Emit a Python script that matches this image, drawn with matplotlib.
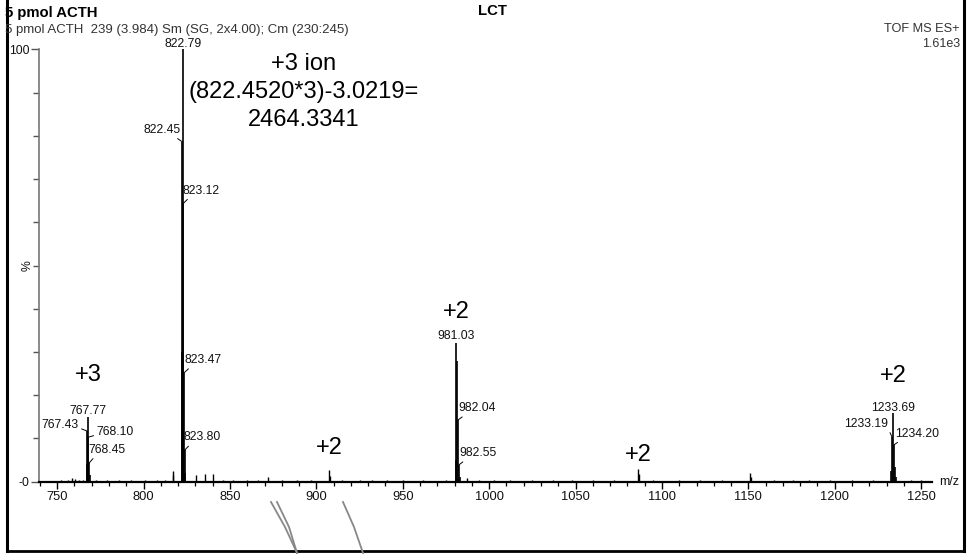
import matplotlib
matplotlib.use("Agg")
import matplotlib.pyplot as plt
from matplotlib.lines import Line2D
import numpy as np

plt.rcParams['font.family'] = ['Liberation Sans', 'DejaVu Sans']

# ---------------- data ----------------
# main isotope clusters (m/z, relative intensity %)
peak_mz = [767.10, 767.43, 767.77, 768.10, 768.45, 768.78,
           822.12, 822.45, 822.79, 823.12, 823.47, 823.80, 824.13,
           980.53, 981.03, 981.53, 982.04, 982.55, 983.05,
           1232.69, 1233.19, 1233.69, 1234.20, 1234.70, 1235.20]
peak_int = [4.0, 11.7, 14.9, 10.3, 4.3, 1.5,
            30.0, 78.6, 100.0, 64.4, 25.2, 7.3, 2.0,
            5.0, 32.1, 28.0, 14.3, 3.9, 1.2,
            2.5, 10.3, 15.8, 8.5, 3.5, 1.0]

# minor peaks and baseline bumps
minor_mz = [752.0, 756.5, 758.4, 760.2, 762.5, 765.0, 772.5, 779.0, 786.0, 793.0,
            801.0, 808.0, 812.5, 816.8, 817.3, 830.3, 835.3, 840.3, 846.0, 852.0,
            860.0, 866.0, 872.2, 880.0, 889.0, 897.0, 907.3, 907.9, 915.0, 925.0,
            932.0, 941.0, 950.0, 962.0, 975.0, 987.0, 994.0, 1003.0, 1012.0, 1025.0,
            1037.0, 1048.0, 1060.0, 1072.0, 1086.1, 1086.7, 1095.0, 1110.0, 1122.0,
            1135.0, 1150.9, 1151.5, 1165.0, 1176.0, 1185.0, 1197.0, 1210.0, 1222.0,
            1244.0, 1250.0]
minor_int = [0.3, 0.4, 0.8, 0.6, 0.5, 0.4, 0.3, 0.3, 0.3, 0.3,
             0.3, 0.5, 0.4, 2.5, 1.5, 1.6, 1.8, 1.7, 0.4, 0.3,
             0.3, 0.3, 1.2, 0.3, 0.3, 0.3, 2.8, 1.4, 0.3, 0.3,
             0.5, 0.3, 0.3, 0.3, 0.4, 0.8, 0.3, 0.5, 0.3, 0.3,
             0.3, 0.3, 0.3, 0.3, 3.0, 1.8, 0.3, 0.3, 0.3,
             0.3, 2.0, 1.0, 0.3, 0.3, 0.5, 0.3, 0.3, 0.3,
             0.4, 0.3]

# labelled peaks
label_mz = [767.43, 767.77, 768.10, 768.45,
            822.45, 822.79, 823.12, 823.47, 823.80,
            981.03, 982.04, 982.55,
            1233.19, 1233.69, 1234.20]
label_int = [11.7, 14.9, 10.3, 4.3,
             78.6, 100.0, 64.4, 25.2, 7.3,
             32.1, 14.3, 3.9,
             10.3, 15.8, 8.5]
label_txt = ["767.43", "767.77", "768.10", "768.45",
             "822.45", "822.79", "823.12", "823.47", "823.80",
             "981.03", "982.04", "982.55",
             "1233.19", "1233.69", "1234.20"]

# charge state annotations (m/z position, text)
charge_mz = [767.8, 907.5, 981.0, 1086.5, 1233.7]
charge_txt = ["+3", "+2", "+2", "+2", "+2"]

xmin, xmax = 739.5, 1256.1
xticks = [750, 800, 850, 900, 950, 1000, 1050, 1100, 1150, 1200, 1250]

# ---------------- layout ----------------
W, H = 967, 554
fig = plt.figure(figsize=(W / 100, H / 100), dpi=100)
ax = fig.add_axes([39 / W, 1 - 481.7 / H, (931.7 - 39) / W, (481.7 - 49.3) / H])
ax.set_xlim(xmin, xmax)
ax.set_ylim(0, 100)

ax.vlines(minor_mz, 0, minor_int, color='black', lw=1.0, clip_on=False)
ax.vlines(peak_mz, 0, peak_int, color='black', lw=1.2, clip_on=False)

for s in ['top', 'right']:
    ax.spines[s].set_visible(False)
ax.spines['bottom'].set_linewidth(1.6)
ax.spines['bottom'].set_color('black')
ax.spines['left'].set_linewidth(1.2)
ax.spines['left'].set_color('#777777')

ax.set_xticks(xticks)
ax.set_xticklabels([str(t) for t in xticks])
ax.set_xticks(np.arange(740, 1260, 10), minor=True)
ax.tick_params(axis='x', which='major', direction='out', length=5, width=1.0,
               color='black', labelsize=9.3, pad=2, labelcolor='#111111')
ax.tick_params(axis='x', which='minor', direction='out', length=3, width=0.9,
               color='black')

ax.set_yticks([0, 100])
ax.set_yticklabels(["-0", "100"])
ax.set_yticks(np.arange(10, 100, 10), minor=True)
ax.tick_params(axis='y', which='major', direction='out', length=6, width=1.0,
               color='#555555', labelsize=8.8, pad=1, labelcolor='#111111')
ax.tick_params(axis='y', which='minor', direction='out', length=4, width=1.0,
               color='#555555')

ax.text(-11 / (931.7 - 39), 0.5, "%", transform=ax.transAxes, rotation=90,
        ha='center', va='center', fontsize=8.8, color='#111111')
ax.text(1.0 + 17 / (931.7 - 39), 0.0, "m/z", transform=ax.transAxes,
        ha='center', va='center', fontsize=9, color='#111111')

# peak labels: (dx, dy) pixel offsets of text from the peak point, alignment, leader anchor
label_layout = [
    (-8.5, 5.7, 'right', (1.0, 0.3), True),   # 767.43
    (0, 6.3, 'center', None, False),          # 767.77
    (8.0, 4.7, 'left', (0.0, 0.3), True),     # 768.10
    (-1, 13.3, 'left', (0.2, 0.0), True),     # 768.45
    (-1.3, 12, 'right', (0.75, 0.1), True),   # 822.45
    (0, 5.5, 'center', None, False),          # 822.79
    (-0.7, 12.6, 'left', (0.2, 0.0), True),   # 823.12
    (0, 12.7, 'left', (0.2, 0.0), True),      # 823.47
    (-1, 12.7, 'left', (0.2, 0.0), True),     # 823.80
    (0, 7.0, 'center', None, False),          # 981.03
    (0.5, 11.7, 'left', (0.2, 0.0), True),    # 982.04
    (0, 11.7, 'left', (0.2, 0.0), True),      # 982.55
    (-4.5, 13.3, 'right', (1.0, 0.2), True),  # 1233.19
    (0, 5.0, 'center', None, False),          # 1233.69
    (1, 11.3, 'left', (0.15, 0.0), True),     # 1234.20
]
for mz, it, txt, (dx, dy, ha, rp, lead) in zip(label_mz, label_int, label_txt, label_layout):
    kw = {}
    if lead:
        kw['arrowprops'] = dict(arrowstyle='-', lw=0.7, color='black',
                                shrinkA=0, shrinkB=0, relpos=rp)
    ax.annotate(txt, xy=(mz, it), xytext=(dx, dy), textcoords='offset pixels',
                ha=ha, va='center', fontsize=8.7, color='#111111',
                annotation_clip=False, **kw)

# charge state labels (pixel y positions from reference)
charge_y = [375, 448, 312, 455, 376]
for mz, txt, yp in zip(charge_mz, charge_txt, charge_y):
    xf = ax.transData.transform((mz, 0))[0] / W
    fig.text(xf, 1 - yp / H, txt, ha='center', va='center', fontsize=17, color='black')

# large annotation
fig.text(304 / W, 1 - 64 / H, "+3 ion", ha='center', va='center', fontsize=17)
fig.text(304 / W, 1 - 92 / H, "(822.4520*3)-3.0219=", ha='center', va='center', fontsize=17)
fig.text(304 / W, 1 - 120 / H, "2464.3341", ha='center', va='center', fontsize=17)

# header texts
fig.text(5 / W, 1 - 13 / H, "5 pmol ACTH", ha='left', va='center', fontsize=10.7,
         fontweight='bold')
fig.text(492 / W, 1 - 11 / H, "LCT", ha='center', va='center', fontsize=10.7,
         fontweight='bold')
fig.text(5 / W, 1 - 30 / H, "5 pmol ACTH  239 (3.984) Sm (SG, 2x4.00); Cm (230:245)",
         ha='left', va='center', fontsize=9.5, color='#333333')
fig.text(959 / W, 1 - 29 / H, "TOF MS ES+", ha='right', va='center', fontsize=9.2,
         color='#333333')
fig.text(960 / W, 1 - 44 / H, "1.61e3", ha='right', va='center', fontsize=9,
         color='#333333')

# frame
def px(x, y):
    return x / W, 1 - y / H

for (x0, y0), (x1, y1), lw in [((6.5, 0), (6.5, 551), 2.2),
                                ((963.5, 0), (963.5, 551), 2.2),
                                ((6.5, 550.5), (963.5, 550.5), 2.0)]:
    a, b = px(x0, y0)
    c, d = px(x1, y1)
    fig.add_artist(Line2D([a, c], [b, d], color='black', lw=lw))

# grey stray strokes below the axis
for pts in [[(271, 502), (285, 527), (297, 553)],
            [(277, 502), (289, 527), (297, 553)],
            [(343, 502), (354, 527), (363, 553)]]:
    xs = [p[0] / W for p in pts]
    ys = [1 - p[1] / H for p in pts]
    fig.add_artist(Line2D(xs, ys, color='#888888', lw=1.3))

fig.savefig("out.png", dpi=100)
